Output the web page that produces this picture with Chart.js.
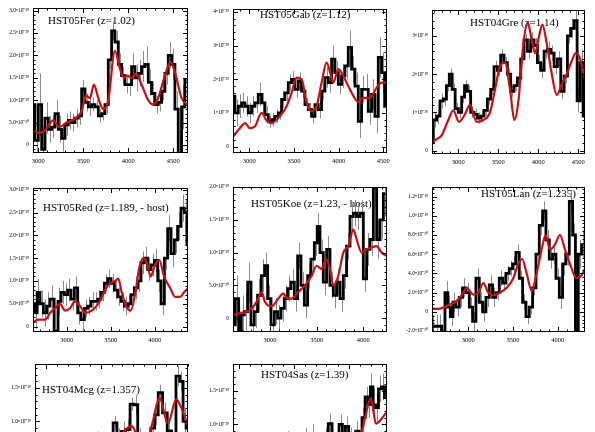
<!DOCTYPE html>
<html>
<head>
<meta charset="utf-8">
<script src="https://cdn.jsdelivr.net/npm/chart.js@4.4.1/dist/chart.umd.min.js"></script>
<style>
  html, body { margin: 0; padding: 0; background: #fff; overflow: hidden; }
  body { width: 595px; height: 432px; position: relative; }
  canvas { position: absolute; }
</style>
</head>
<body>
<script>
// ================= DATA (flux in units of 1e-19) =================

// wavelength tick labels shared by all panels
const waveTicks = [2500, 3000, 3500, 4000, 4500];

// HST05Fer
const ferWave = [2944,2981,3019,3056,3093,3130,3167,3204,3241,3278,3315,3352,3389,3426,3463,3500,3537,3574,3611,3648,3685,3722,3759,3796,3833,3870,3907,3944,3981,4018,4055,4092,4129,4166,4203,4240,4277,4314,4351,4388,4425,4462,4499,4536,4573,4610,4647];
const ferFlux = [0.9,0.1,0.9,-0.1,0.6,0.35,0.4,0.7,0.35,0.15,0.45,0.55,0.5,0.6,0.65,1.25,0.95,0.85,0.9,0.85,0.65,0.7,0.9,1.9,2.55,2.3,1.8,1.55,1.35,1.35,1.75,1.5,1.6,1.75,1.8,1.4,1.15,0.9,0.95,1.2,1.6,2.0,1.8,0.8,-0.2,0.85,1.45];
const ferErr = [0.6,0.5,0.7,0.5,0.35,0.3,0.25,0.3,0.3,0.3,0.25,0.2,0.2,0.2,0.2,0.2,0.2,0.2,0.15,0.15,0.15,0.15,0.2,0.2,0.2,0.25,0.25,0.2,0.2,0.25,0.3,0.3,0.3,0.35,0.4,0.3,0.25,0.2,0.2,0.2,0.25,0.3,0.35,0.4,0.5,0.5,0.5];
const ferModelWave = [2944,3019,3074,3167,3233,3315,3400,3481,3529,3574,3618,3666,3722,3777,3851,3907,3951,3988,4036,4084,4147,4221,4277,4332,4406,4469,4528,4591,4665];
const ferModel = [0.3,0.27,0.33,0.55,0.4,0.5,0.58,0.75,1.1,1.05,1.35,1.05,0.8,1.0,2.1,1.7,1.5,1.55,1.5,1.6,1.35,1.0,0.9,1.05,1.55,1.85,1.55,1.05,0.9];

// HST05Gab
const gabWave = [2821,2858,2896,2933,2970,3007,3045,3082,3119,3157,3194,3231,3269,3306,3343,3380,3418,3455,3492,3530,3567,3604,3642,3679,3716,3753,3791,3828,3865,3903,3940,3977,4015,4052,4089,4126,4164,4201,4238,4276,4313,4350,4388,4425,4462,4500,4529];
const gabFlux = [1.5,1.0,1.2,1.3,1.2,1.0,1.2,1.3,1.55,1.3,0.95,0.75,0.8,0.9,1.0,1.4,1.6,1.9,2.0,1.7,1.95,1.65,1.25,1.1,0.9,1.25,1.1,1.65,2.05,1.9,2.6,2.2,1.85,2.1,2.4,2.95,2.3,1.8,0.75,1.7,1.7,1.05,1.55,0.9,2.65,2.2,1.2];
const gabErr = [0.6,0.4,0.35,0.3,0.3,0.3,0.3,0.3,0.35,0.3,0.25,0.2,0.2,0.2,0.2,0.25,0.25,0.25,0.25,0.25,0.25,0.2,0.2,0.2,0.2,0.2,0.25,0.25,0.3,0.3,0.4,0.35,0.3,0.35,0.4,0.5,0.4,0.4,0.5,0.4,0.45,0.4,0.45,0.5,0.6,0.6,0.7];
const gabModelWave = [2821,2896,2952,3007,3063,3138,3194,3250,3343,3418,3474,3530,3586,3642,3698,3753,3809,3865,3910,3940,3996,4052,4126,4220,4276,4350,4425,4481,4537];
const gabModel = [0.3,0.55,0.7,0.55,0.6,1.0,0.78,0.7,0.9,1.2,1.6,2.05,2.0,1.3,1.05,1.2,1.9,2.5,2.15,1.9,2.3,2.1,1.7,1.33,1.45,1.45,1.75,1.9,1.9];

// HST04Gre
const greWave = [2666,2708,2750,2792,2833,2870,2904,2942,2979,3021,3063,3092,3133,3175,3217,3259,3300,3342,3384,3425,3467,3509,3550,3592,3634,3675,3717,3759,3800,3842,3884,3926,3967,4009,4051,4093,4134,4176,4218,4259,4301,4343,4384,4426,4468,4501,4543,4576];
const greFlux = [0.2,0.8,0.9,1.3,1.35,1.7,2.0,1.6,1.1,1.0,1.4,1.7,1.55,1.0,0.95,0.85,0.9,1.05,1.35,1.6,2.2,2.1,2.5,2.3,2.0,1.55,1.7,1.9,2.4,2.9,2.6,2.9,2.75,2.3,2.1,2.6,2.65,2.55,2.2,2.4,1.55,1.95,3.0,3.2,3.4,1.3,2.3,0.9];
const greErr = [0.25,0.2,0.2,0.2,0.2,0.15,0.15,0.15,0.15,0.15,0.15,0.15,0.15,0.15,0.15,0.15,0.15,0.15,0.15,0.15,0.15,0.15,0.15,0.15,0.15,0.15,0.15,0.15,0.15,0.15,0.2,0.2,0.2,0.2,0.2,0.2,0.2,0.2,0.2,0.2,0.2,0.2,0.2,0.25,0.25,0.3,0.35,0.4];
const greModelWave = [2666,2729,2792,2875,2937,3008,3083,3146,3229,3313,3396,3459,3521,3584,3646,3701,3751,3813,3867,3917,3959,4009,4051,4105,4168,4230,4293,4355,4418,4468,4522,4585];
const greModel = [0.2,0.3,0.4,0.8,1.05,0.75,0.95,1.2,0.75,0.8,1.0,1.6,2.2,2.3,1.6,0.8,1.3,2.8,3.35,2.9,2.55,3.0,3.3,2.8,2.0,1.45,1.75,2.0,2.35,2.55,2.4,1.85];

// HST05Red
const redWave = [2621,2651,2678,2716,2754,2792,2829,2886,2917,2955,2992,3030,3068,3106,3144,3182,3220,3258,3296,3334,3371,3409,3447,3485,3523,3561,3599,3637,3675,3713,3750,3788,3826,3864,3902,3940,3978,4016,4054,4092,4129,4167,4205,4243,4281,4319,4357,4376];
const redFlux = [0.5,0.3,0.75,0.5,0.3,0.45,0.6,-0.1,0.55,0.75,0.7,0.8,0.6,0.85,0.3,0.15,0.4,0.45,0.55,0.55,0.6,0.75,0.95,1.05,0.95,0.8,0.65,0.55,0.45,0.5,0.7,0.85,1.0,1.4,1.5,1.25,1.35,1.45,1.0,0.5,1.5,2.15,1.6,1.9,2.2,2.6,2.5,1.8];
const redErr = [0.35,0.35,0.3,0.3,0.3,0.3,0.3,0.3,0.3,0.25,0.25,0.25,0.25,0.25,0.25,0.25,0.2,0.2,0.2,0.2,0.2,0.2,0.2,0.2,0.2,0.2,0.2,0.2,0.2,0.2,0.2,0.25,0.25,0.25,0.25,0.25,0.25,0.25,0.25,0.25,0.25,0.3,0.3,0.3,0.3,0.3,0.3,0.35];
const redModelWave = [2621,2678,2754,2811,2867,2924,2981,3038,3095,3152,3208,3284,3360,3436,3493,3550,3587,3625,3675,3728,3777,3826,3872,3910,3955,4004,4054,4107,4175,4232,4289,4334,4383];
const redModel = [0.1,0.15,0.15,0.3,0.4,0.5,0.35,0.4,0.55,0.45,0.3,0.35,0.5,0.8,0.95,1.0,1.05,0.75,0.45,0.35,0.7,1.3,1.5,1.4,1.1,1.35,1.45,1.1,0.85,0.65,0.65,0.75,0.85];

// HST05Koe
const koeWave = [2607,2650,2679,2707,2743,2779,2814,2850,2886,2929,2957,2993,3029,3064,3100,3136,3171,3207,3243,3278,3314,3350,3386,3421,3457,3493,3518,3553,3589,3625,3660,3696,3732,3768,3803,3839,3875,3910,3946,3982,4017,4053,4089,4125,4160,4196,4232];
const koeFlux = [-0.1,0.3,-0.2,0.05,0.1,0.55,-0.1,0.1,0.35,0.65,0.8,0.3,-0.1,0.1,0.0,0.15,0.3,0.45,0.55,0.3,0.95,0.5,0.2,0.65,0.9,1.15,1.4,1.0,0.55,1.05,0.5,0.35,0.55,0.3,0.65,1.1,1.55,1.6,1.55,1.6,0.6,1.05,1.2,2.0,1.2,1.5,1.9];
const koeErr = [0.35,0.35,0.3,0.3,0.3,0.3,0.3,0.25,0.25,0.25,0.2,0.2,0.2,0.2,0.2,0.2,0.2,0.2,0.2,0.2,0.2,0.2,0.2,0.2,0.2,0.2,0.2,0.2,0.2,0.2,0.2,0.2,0.2,0.2,0.2,0.2,0.2,0.2,0.2,0.2,0.2,0.25,0.25,0.3,0.3,0.3,0.35];
const koeModelWave = [2607,2679,2750,2804,2857,2911,2946,3018,3089,3143,3186,3232,3303,3375,3446,3500,3553,3600,3643,3678,3732,3785,3839,3893,3928,3982,4035,4089,4142,4196,4250];
const koeModel = [0.05,0.08,0.1,0.15,0.25,0.4,0.25,0.18,0.3,0.38,0.3,0.3,0.4,0.5,0.65,0.8,0.75,0.9,0.75,0.5,0.65,1.0,1.1,1.35,1.2,1.0,1.05,1.08,1.1,1.0,0.95];

// HST05Lan
const lanWave = [2608,2646,2683,2720,2758,2784,2814,2843,2881,2918,2955,2993,3030,3067,3104,3142,3179,3216,3254,3291,3328,3366,3403,3440,3477,3515,3552,3589,3627,3664,3701,3739,3776,3813,3850,3888,3925,3962,4000,4037,4074,4112,4149,4186,4212,4250,4287];
const lanFlux = [-0.15,-0.15,-0.15,-0.3,0.2,0.05,-0.05,0.1,0.05,0.15,0.25,0.2,0.05,-0.1,0.35,0.1,0.0,0.15,0.28,0.15,0.2,0.35,0.3,0.4,0.45,0.5,0.62,0.35,0.1,-0.05,0.05,0.25,0.6,0.9,1.05,0.75,0.55,0.6,0.35,0.15,0.5,0.6,1.15,0.8,-0.25,0.6,0.7];
const lanErr = [0.12,0.12,0.12,0.12,0.12,0.12,0.1,0.1,0.1,0.1,0.1,0.1,0.1,0.1,0.1,0.1,0.1,0.1,0.1,0.1,0.08,0.08,0.08,0.08,0.08,0.08,0.08,0.08,0.08,0.08,0.08,0.08,0.08,0.1,0.1,0.1,0.1,0.1,0.1,0.12,0.12,0.12,0.12,0.12,0.15,0.15,0.15];
const lanModelWave = [2590,2664,2739,2795,2851,2925,2981,3056,3112,3168,3224,3280,3354,3429,3504,3560,3604,3653,3709,3765,3821,3865,3914,3970,4026,4082,4138,4212,4268,4306];
const lanModel = [0.03,0.03,0.05,0.08,0.1,0.17,0.25,0.18,0.2,0.3,0.2,0.17,0.2,0.25,0.35,0.5,0.55,0.4,0.22,0.4,0.65,0.8,0.65,0.7,0.8,0.65,0.5,0.35,0.38,0.45];

// HST04Mcg
const mcgWave = [2420,2460,2500,2540,2580,2620,2660,2700,2740,2780,2820,2860,2900,2940,2980,3020,3060,3100,3130,3170,3210,3250,3290,3320,3360,3400,3440,3480,3510,3545,3590,3630,3670,3710,3740,3770,3795];
const mcgFlux = [0.2,0.35,0.1,0.4,0.3,0.5,0.25,0.45,0.6,0.35,0.5,0.65,0.4,0.55,0.7,0.5,0.6,0.7,0.98,0.75,0.85,0.88,1.26,1.25,0.75,0.6,0.7,0.9,1.1,1.43,1.13,0.86,0.6,1.68,1.6,1.0,0.9];
const mcgErr = [0.2,0.2,0.2,0.2,0.2,0.2,0.2,0.2,0.2,0.2,0.15,0.15,0.15,0.15,0.15,0.15,0.15,0.15,0.1,0.15,0.15,0.15,0.1,0.15,0.15,0.15,0.15,0.15,0.15,0.12,0.15,0.15,0.15,0.15,0.15,0.2,0.2];
const mcgModelWave = [2400,2600,2800,3000,3150,3230,3285,3340,3420,3470,3540,3616,3692,3740,3800];
const mcgModel = [0.3,0.4,0.5,0.6,0.7,0.88,0.93,0.78,0.7,0.95,1.35,0.97,1.33,1.2,0.93];

// HST04Sas
const sasWave = [2470,2510,2550,2590,2630,2670,2710,2750,2790,2830,2870,2910,2950,2990,3030,3070,3110,3150,3180,3220,3260,3300,3332,3370,3400,3429,3460,3484,3520,3550,3580,3610,3636,3666,3690,3709,3735,3757,3788,3815,3840];
const sasFlux = [0.3,0.1,0.4,0.2,0.35,0.5,0.3,0.45,0.6,0.4,0.3,0.55,0.7,0.45,0.6,0.5,0.75,0.6,0.85,0.7,0.55,0.8,1.01,0.7,0.8,1.0,0.75,0.97,0.8,0.65,0.9,0.85,1.1,1.41,1.3,1.56,1.29,1.25,1.53,1.56,1.4];
const sasErr = [0.2,0.2,0.2,0.2,0.2,0.2,0.2,0.2,0.2,0.2,0.2,0.2,0.2,0.2,0.2,0.2,0.2,0.2,0.15,0.15,0.15,0.15,0.15,0.15,0.15,0.15,0.15,0.15,0.15,0.15,0.15,0.15,0.15,0.15,0.2,0.2,0.25,0.2,0.2,0.2,0.2];
const sasModelWave = [2450,2700,2950,3200,3400,3560,3620,3650,3703,3750,3788,3850];
const sasModel = [0.25,0.35,0.45,0.55,0.7,0.84,0.9,1.09,1.39,1.01,1.06,1.19];

// ================= PANELS =================
const panels = [
  { title: "HST05Fer (z=1.02)", wave: ferWave, flux: ferFlux, err: ferErr, mWave: ferModelWave, model: ferModel,
    frame: [33, 8, 188, 153], x: [2941, 4663], y: [-0.18, 3.06], yStep: 0.5, yDec: 1, titleAt: [15, 13] },
  { title: "HST05Gab (z=1.12)", wave: gabWave, flux: gabFlux, err: gabErr, mWave: gabModelWave, model: gabModel,
    frame: [233, 9, 387, 153], x: [2818, 4541], y: [-0.19, 4.09], yStep: 1, yDec: 0, titleAt: [27, 6] },
  { title: "HST04Gre (z=1.14)", wave: greWave, flux: greFlux, err: greErr, mWave: greModelWave, model: greModel,
    frame: [432, 10, 585, 154], x: [2671, 4583], y: [-0.09, 3.68], yStep: 1, yDec: 0, titleAt: [38, 13] },
  { title: "HST05Red (z=1.189, - host)", wave: redWave, flux: redFlux, err: redErr, mWave: redModelWave, model: redModel,
    frame: [33, 188, 188, 332], x: [2617, 4379], y: [-0.12, 3.04], yStep: 0.5, yDec: 1, titleAt: [10, 20] },
  { title: "HST05Koe (z=1.23, - host)", wave: koeWave, flux: koeFlux, err: koeErr, mWave: koeModelWave, model: koeModel,
    frame: [233, 187, 387, 332], x: [2604, 4253], y: [-0.21, 2.0], yStep: 0.5, yDec: 1, titleAt: [18, 17] },
  { title: "HST05Lan (z=1.235)", wave: lanWave, flux: lanFlux, err: lanErr, mWave: lanModelWave, model: lanModel,
    frame: [432, 187, 585, 332], x: [2594, 4306], y: [-0.21, 1.30], yStep: 0.2, yDec: 1, titleAt: [49, 7] },
  { title: "HST04Mcg (z=1.357)", wave: mcgWave, flux: mcgFlux, err: mcgErr, mWave: mcgModelWave, model: mcgModel,
    frame: [35, 364, 188, 509], x: [2400, 3800], y: [-0.31, 1.86], yStep: 0.5, yDec: 1, titleAt: [7, 26] },
  { title: "HST04Sas (z=1.39)", wave: sasWave, flux: sasFlux, err: sasErr, mWave: sasModelWave, model: sasModel,
    frame: [233, 364, 387, 509], x: [2450, 3850], y: [-0.26, 1.90], yStep: 0.5, yDec: 1, titleAt: [28, 11] }
];

// ================= HELPERS =================
const SUP = { "-": "\u207B", "0": "\u2070", "1": "\u00B9", "2": "\u00B2", "3": "\u00B3", "4": "\u2074",
              "5": "\u2075", "6": "\u2076", "7": "\u2077", "8": "\u2078", "9": "\u2079" };

function sciLabel(v, dec) {
  if (Math.abs(v) < 1e-6) return "0";
  let m = v, e = -19;
  if (Math.abs(m) < 0.999) { m = m * 10; e = -20; }
  return m.toFixed(dec) + "\u2022" + "10" + String(e).split("").map(c => SUP[c]).join("");
}

const SERIF = "'Liberation Serif', 'Times New Roman', serif";

// grey error bars + panel label, under the lines
const errorBars = {
  id: "errorBars",
  beforeDatasetsDraw(chart, args, opts) {
    const { ctx, chartArea, scales } = chart;
    ctx.save();
    ctx.beginPath();
    ctx.rect(chartArea.left, chartArea.top, chartArea.right - chartArea.left, chartArea.bottom - chartArea.top);
    ctx.clip();
    ctx.fillStyle = "#000";
    ctx.font = "11px " + SERIF;
    ctx.textBaseline = "middle";
    ctx.fillText(opts.title, chartArea.left + opts.titleAt[0], chartArea.top + opts.titleAt[1]);
    ctx.strokeStyle = "#8c8c8c";
    ctx.lineWidth = 1;
    opts.wave.forEach((w, i) => {
      const px = Math.round(scales.x.getPixelForValue(w)) + 0.5;
      ctx.beginPath();
      ctx.moveTo(px, scales.y.getPixelForValue(opts.flux[i] - opts.err[i]));
      ctx.lineTo(px, scales.y.getPixelForValue(opts.flux[i] + opts.err[i]));
      ctx.stroke();
    });
    ctx.restore();
  }
};

// box with inward major/minor ticks on all four sides
const frameTicks = {
  id: "frameTicks",
  afterDatasetsDraw(chart, args, opts) {
    const { ctx, chartArea: a, scales } = chart;
    ctx.save();
    ctx.strokeStyle = "#000";
    ctx.lineWidth = 1;
    ctx.strokeRect(a.left + 0.5, a.top + 0.5, a.right - a.left - 1, a.bottom - a.top - 1);
    ctx.beginPath();
    const xs = scales.x, ys = scales.y;
    const xMinor = opts.xStep / 5, yMinor = opts.yStep / 5;
    for (let v = Math.ceil(xs.min / xMinor) * xMinor; v <= xs.max; v += xMinor) {
      const major = Math.abs(v / opts.xStep - Math.round(v / opts.xStep)) < 1e-6;
      const len = major ? 5 : 2.5;
      const px = Math.round(xs.getPixelForValue(v)) + 0.5;
      ctx.moveTo(px, a.bottom); ctx.lineTo(px, a.bottom - len);
      ctx.moveTo(px, a.top); ctx.lineTo(px, a.top + len);
    }
    for (let v = Math.ceil(ys.min / yMinor - 1e-6) * yMinor; v <= ys.max + 1e-9; v += yMinor) {
      const major = Math.abs(v / opts.yStep - Math.round(v / opts.yStep)) < 1e-6;
      const len = major ? 5 : 2.5;
      const py = Math.round(ys.getPixelForValue(v)) + 0.5;
      ctx.moveTo(a.left, py); ctx.lineTo(a.left + len, py);
      ctx.moveTo(a.right, py); ctx.lineTo(a.right - len, py);
    }
    ctx.stroke();
    ctx.restore();
  }
};

// ================= CREATE CHARTS =================
const AXIS_W = 33, AXIS_H = 14, PAD = 6;

panels.forEach(p => {
  const [L, T, R, B] = p.frame;
  const canvas = document.createElement("canvas");
  canvas.width = (R - L) + AXIS_W + PAD;
  canvas.height = (B - T) + AXIS_H + PAD;
  canvas.style.left = (L - AXIS_W) + "px";
  canvas.style.top = (T - PAD) + "px";
  document.body.appendChild(canvas);

  new Chart(canvas.getContext("2d"), {
    type: "line",
    data: {
      datasets: [
        {
          label: "model",
          data: p.mWave.map((w, i) => ({ x: w, y: p.model[i] })),
          borderColor: "#cc0f0f",
          borderWidth: 2.2,
          pointRadius: 0,
          cubicInterpolationMode: "monotone",
          clip: 0,
          order: 0
        },
        {
          label: "spectrum",
          data: p.wave.map((w, i) => ({ x: w, y: p.flux[i] })),
          borderColor: "#000",
          borderWidth: 2.8,
          pointRadius: 0,
          stepped: "middle",
          clip: 0,
          order: 1
        }
      ]
    },
    options: {
      responsive: false,
      animation: false,
      devicePixelRatio: 1,
      layout: { padding: { top: PAD, right: PAD, left: 0, bottom: 0 } },
      plugins: {
        legend: { display: false },
        tooltip: { enabled: false },
        errorBars: { wave: p.wave, flux: p.flux, err: p.err, title: p.title, titleAt: p.titleAt },
        frameTicks: { xStep: 500, yStep: p.yStep }
      },
      scales: {
        x: {
          type: "linear",
          min: p.x[0],
          max: p.x[1],
          grid: { display: false, drawTicks: false },
          border: { display: false },
          ticks: {
            autoSkip: false,
            maxRotation: 0,
            padding: 4,
            color: "#000",
            font: { family: SERIF, size: 6.5 },
            callback: v => String(Math.round(v))
          },
          afterBuildTicks: s => {
            s.ticks = waveTicks.filter(v => v >= s.min && v <= s.max).map(v => ({ value: v }));
          },
          afterFit: s => { s.height = AXIS_H; s.paddingLeft = 0; s.paddingRight = 0; }
        },
        y: {
          type: "linear",
          min: p.y[0],
          max: p.y[1],
          grid: { display: false, drawTicks: false },
          border: { display: false },
          ticks: {
            stepSize: p.yStep,
            includeBounds: false,
            autoSkip: false,
            padding: 4,
            color: "#000",
            font: { family: SERIF, size: 5.5 },
            callback: v => sciLabel(v, p.yDec)
          },
          afterFit: s => { s.width = AXIS_W; s.paddingTop = 0; s.paddingBottom = 0; }
        }
      }
    },
    plugins: [errorBars, frameTicks]
  });
});
</script>
</body>
</html>
